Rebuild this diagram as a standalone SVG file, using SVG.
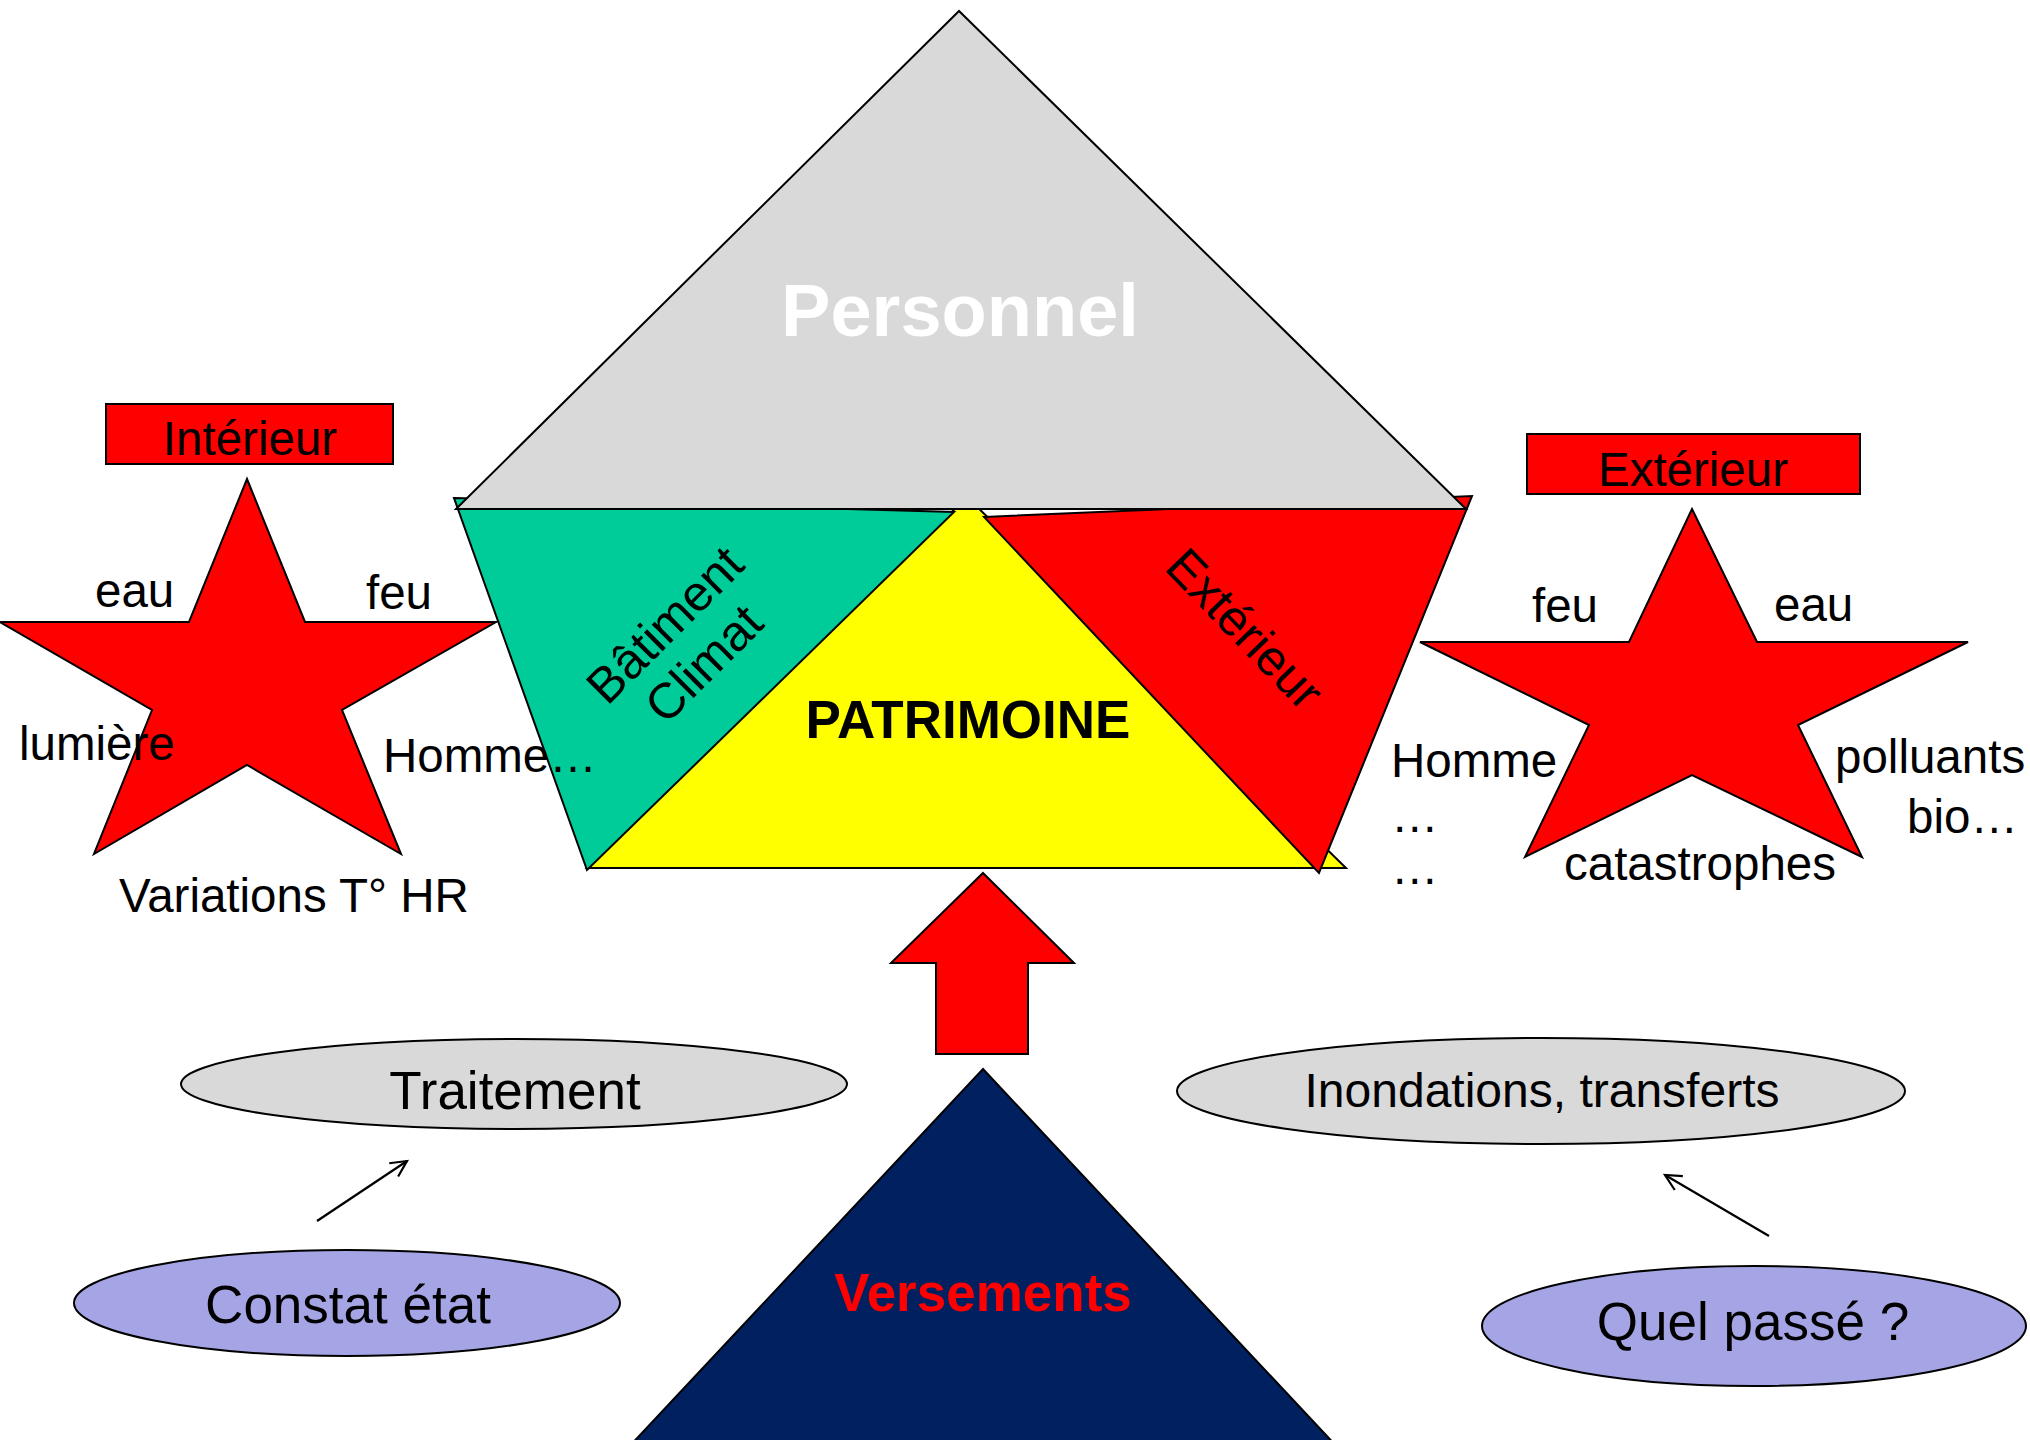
<svg xmlns="http://www.w3.org/2000/svg" width="2030" height="1440" viewBox="0 0 2030 1440">
<style>
.s{stroke:#000;stroke-width:2;stroke-linejoin:miter}
.t{font-family:"Liberation Sans",Arial,sans-serif;fill:#000}
.b{font-weight:bold}
.m{text-anchor:middle}
.c{stroke:#000;stroke-width:2.2;fill:none}
</style>
<defs>
<marker id="ah" markerWidth="24" markerHeight="24" refX="20" refY="12" orient="auto" markerUnits="userSpaceOnUse">
<path d="M4,4 L20,12 L4,20" fill="none" stroke="#000" stroke-width="2.2"/>
</marker>
</defs>
<rect width="2030" height="1440" fill="#fff"/>

<g id="patrimoine">
<polygon class="s" points="967,497 587,868 1346,868" fill="#FFFF00"/>
<text class="t b m" x="968" y="738" font-size="53">PATRIMOINE</text>
</g>
<g id="batiment">
<polygon class="s" points="454,498 954,512 587,870" fill="#00CC99"/>
</g>
<g id="exterieur-tri">
<polygon class="s" points="984,517 1472,496 1319,873" fill="#FF0000"/>
</g>
<g id="personnel">
<polygon class="s" points="959,11 456,509 1466,509" fill="#D9D9D9"/>
<text class="t b m" x="960" y="336" font-size="74" style="fill:#fff">Personnel</text>
</g>
<g id="batiment-label">
<g transform="translate(684,644) rotate(-45)">
<text class="t m" x="0" y="-10" font-size="50">Bâtiment</text>
<text class="t m" x="0" y="45" font-size="50">Climat</text>
</g>
</g>
<g id="exterieur-label">
<text class="t m" transform="translate(1245,629) rotate(46)" x="0" y="17" font-size="50">Extérieur</text>
</g>

<g id="interieur-box">
<rect class="s" x="106" y="404" width="287" height="60" fill="#FF0000"/>
<text class="t m" x="250" y="455" font-size="47.5">Intérieur</text>
</g>
<g id="interieur-star">
<polygon class="s" points="247,479 305,622 496,622 342,710 401,854 247,765 94,854 152,710 0,622 189,622" fill="#FF0000"/>
<text class="t" x="95" y="607" font-size="47.5">eau</text>
<text class="t" x="366" y="609" font-size="47.5">feu</text>
<text class="t" x="19" y="760" font-size="47.5">lumière</text>
<text class="t" x="383" y="772" font-size="47.5">Homme…</text>
<text class="t" x="119" y="912" font-size="47.5">Variations T° HR</text>
</g>

<g id="exterieur-box">
<rect class="s" x="1527" y="434" width="333" height="60" fill="#FF0000"/>
<text class="t m" x="1693" y="486" font-size="47.5">Extérieur</text>
</g>
<g id="exterieur-star">
<polygon class="s" points="1692,509 1757,642 1968,642 1798,725 1862,857 1692,775 1525,857 1589,725 1420,642 1629,642" fill="#FF0000"/>
<text class="t" x="1532" y="622" font-size="47.5">feu</text>
<text class="t" x="1774" y="621" font-size="47.5">eau</text>
<text class="t" x="1391" y="777" font-size="47.5">Homme</text>
<text class="t" x="1391" y="832" font-size="47.5">…</text>
<text class="t" x="1391" y="884" font-size="47.5">…</text>
<text class="t" x="1835" y="773" font-size="47.5">polluants</text>
<text class="t" x="2018" y="833" font-size="47.5" text-anchor="end">bio…</text>
<text class="t" x="1564" y="880" font-size="47.5">catastrophes</text>
</g>

<g id="fleche-haut">
<polygon class="s" points="983,873 1074,963 1028,963 1028,1054 936,1054 936,963 891,963" fill="#FF0000"/>
</g>
<g id="versements">
<polygon class="s" points="983,1069 1340,1450 626,1450" fill="#002060"/>
<text class="t b m" x="983" y="1311" font-size="53" style="fill:#FF0000">Versements</text>
</g>

<g id="traitement">
<ellipse class="s" cx="514" cy="1084" rx="333" ry="45" fill="#D9D9D9"/>
<text class="t m" x="515" y="1109" font-size="53">Traitement</text>
</g>
<g id="constat">
<ellipse class="s" cx="347" cy="1303" rx="273" ry="53" fill="#A5A5E6"/>
<text class="t m" x="348" y="1323" font-size="53">Constat état</text>
</g>
<g id="inondations">
<ellipse class="s" cx="1541" cy="1091" rx="364" ry="53" fill="#D9D9D9"/>
<text class="t m" x="1542" y="1107" font-size="48">Inondations, transferts</text>
</g>
<g id="quel-passe">
<ellipse class="s" cx="1754" cy="1326" rx="272" ry="60" fill="#A5A5E6"/>
<text class="t m" x="1753" y="1340" font-size="53">Quel passé ?</text>
</g>

<g id="connectors">
<line class="c" x1="317" y1="1221" x2="407" y2="1161" marker-end="url(#ah)"/>
<line class="c" x1="1769" y1="1236" x2="1665" y2="1175" marker-end="url(#ah)"/>
</g>
</svg>
